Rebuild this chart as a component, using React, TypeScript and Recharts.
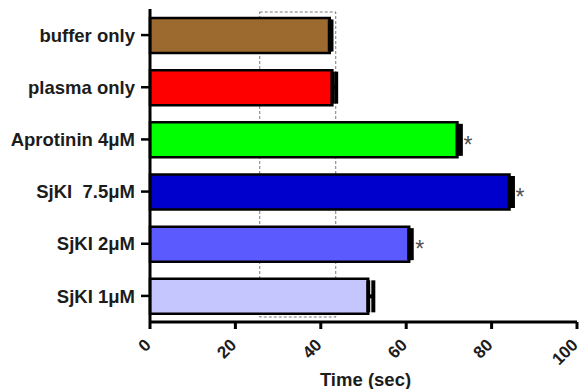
import { BarChart, Bar, XAxis, YAxis, Cell, ErrorBar, LabelList, ReferenceArea } from 'recharts';

const categories = ['buffer only', 'plasma only', 'Aprotinin 4μM', 'SjKI  7.5μM', 'SjKI 2μM', 'SjKI 1μM'];
const times = [42.1, 42.7, 72.0, 84.2, 60.7, 51.1];
const sem = [0.4, 0.9, 0.8, 0.8, 0.6, 1.2];
const marks = ['', '', '*', '*', '*', ''];
const colors = ['#9C6A2E', '#FF0000', '#00FF00', '#0000CC', '#5A5AFF', '#C6C6FF'];
const xTicks = [0, 20, 40, 60, 80, 100];
const windowStart = 25.7;
const windowEnd = 43.5;

const FONT = '"Liberation Sans", Arial, sans-serif';
const INK = '#1c1c1c';

const data = categories.map((name, i) => ({
  name,
  time: times[i],
  err: [0, sem[i]],
  mark: marks[i],
}));

const YTick = ({ x, y, payload }: any) => (
  <text
    x={x - 4}
    y={y}
    dy="0.36em"
    textAnchor="end"
    fill={INK}
    fontSize={18.5}
    fontWeight="bold"
    fontFamily={FONT}
    style={{ whiteSpace: 'pre' }}
  >
    {payload.value}
  </text>
);

const XTick = ({ x, y, payload }: any) => {
  const ax = x + 2;
  const ay = y + 15;
  return (
    <text
      x={ax}
      y={ay}
      transform={`rotate(-45, ${ax}, ${ay})`}
      textAnchor="end"
      fill={INK}
      fontSize={17}
      fontWeight="bold"
      fontFamily={FONT}
    >
      {payload.value}
    </text>
  );
};

const Star = ({ x, y, width, height, value }: any) =>
  value ? (
    <text x={x + width + 6} y={y + height / 2 + 13} fill="#505050" fontSize={23} fontFamily={FONT}>
      {value}
    </text>
  ) : null;

const WindowBox = ({ x, y, width, height }: any) => (
  <rect
    x={x}
    y={y + 3}
    width={width}
    height={height - 8}
    fill="none"
    stroke="#333"
    strokeOpacity={0.65}
    strokeDasharray="3 2"
    strokeWidth={1}
  />
);

export default function App() {
  return (
    <div style={{ position: 'absolute', left: 0, top: 0, background: '#fff' }}>
      <BarChart
        width={580}
        height={389}
        data={data}
        layout="vertical"
        margin={{ top: 9, right: 3, left: 0, bottom: 0 }}
      >
        <XAxis
          type="number"
          domain={[0, 100]}
          ticks={xTicks}
          interval={0}
          height={67}
          axisLine={{ stroke: '#000', strokeWidth: 3 }}
          tickLine={{ stroke: '#000', strokeWidth: 3 }}
          tickSize={7}
          tick={<XTick />}
          label={{
            content: ({ viewBox }: any) => (
              <text
                x={viewBox.x + viewBox.width / 2 + 2}
                y={viewBox.y + 64}
                textAnchor="middle"
                fill={INK}
                fontSize={18.5}
                fontWeight="bold"
                fontFamily={FONT}
              >
                Time (sec)
              </text>
            ),
          }}
        />
        <YAxis
          type="category"
          dataKey="name"
          width={150}
          axisLine={{ stroke: '#000', strokeWidth: 3 }}
          tickLine={{ stroke: '#000', strokeWidth: 2.5 }}
          tickSize={9}
          tick={<YTick />}
        />
        <Bar dataKey="time" barSize={35} stroke="#000" strokeWidth={2.5} isAnimationActive={false}>
          {data.map((d, i) => (
            <Cell key={d.name} fill={colors[i]} />
          ))}
          <ErrorBar dataKey="err" direction="x" width={16} stroke="#000" strokeWidth={4} />
          <LabelList dataKey="mark" content={<Star />} />
        </Bar>
        <ReferenceArea x1={windowStart} x2={windowEnd} shape={<WindowBox />} ifOverflow="visible" />
      </BarChart>
    </div>
  );
}
